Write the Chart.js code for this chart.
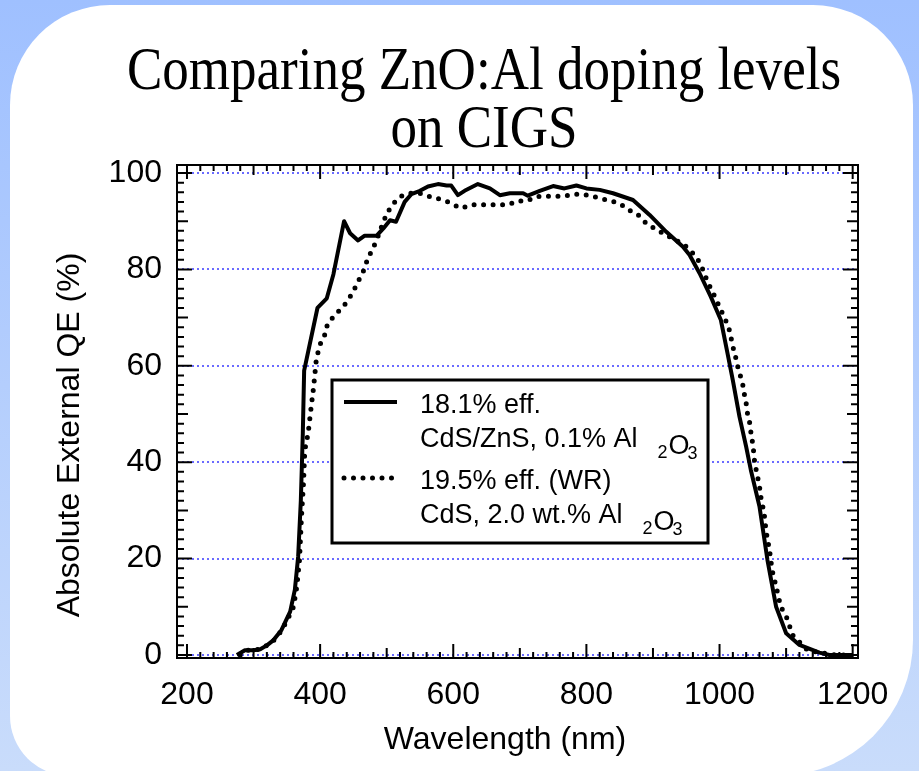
<!DOCTYPE html>
<html>
<head>
<meta charset="utf-8">
<script src="https://cdn.jsdelivr.net/npm/chart.js@4"></script>
<style>
body{margin:0;width:919px;height:771px;overflow:hidden;background:linear-gradient(#9fc0ff,#c9dcfb);position:relative}
#panel{position:absolute;left:10px;top:5px;width:903px;height:771px;background:#fff;border-radius:100px 100px 136px 60px}
#qeChart{position:absolute;left:0;top:0}
</style>
</head>
<body>
<div id="panel"></div>
<canvas id="qeChart" width="919" height="771"></canvas>
<script>

// 18.1% eff. CdS/ZnS, 0.1% Al2O3
let wl18 = [275,287,300,310,320,330,342,355,362,367,371,374,376,396,410,420,436,445,457,467,485,495,505,514,527,537,550,562,577,590,597,607,617,637,655,670,685,705,712,730,750,767,785,800,820,840,870,895,920,945,955,970,987,1002,1012,1020,1030,1040,1047,1060,1072,1085,1100,1120,1150,1165,1200]
let qe18 = [0,1,1,1.2,2,3.1,5.2,9,13.5,20.4,32,46,59,72,74,79,90,87.5,86,87,87,88.5,90.2,89.9,94,95.6,96.3,97.2,97.7,97.4,97.4,95.4,96.3,97.7,96.8,95.4,95.8,95.8,95.3,96.3,97.3,96.8,97.4,96.8,96.5,95.8,94.4,91.3,87.8,84.7,83,79.2,74.3,69.5,62.6,57,49.4,43.2,38.4,30.8,19.7,10,4.5,2.1,0.5,0,0]

// 19.5% eff. (WR) CdS, 2.0 wt.% Al2O3
let wl19 = [280,290,300,310,320,330,342,355,360,365,369,372,375,377,382,387,390,394,397,401,408,411,422,436,445,453,460,467,471,478,485,495,502,510,522,537,550,565,579,592,604,612,627,642,655,670,682,697,710,725,740,753,766,780,795,808,822,836,850,864,877,891,905,920,934,947,961,971,977,982,990,996,1002,1009,1014,1017,1020,1024,1027,1031,1035,1037,1040,1042,1045,1047,1049,1051,1052,1054,1060,1062,1067,1070,1075,1079,1085,1092,1100,1110,1132,1155,1175,1200]
let qe19 = [0,1,1,1.2,2,3,5,8.5,10,14.2,19.7,28.7,35.6,42.5,46,52,55.3,60.9,62.9,64.8,66.7,68.7,70.5,72.5,74.3,76.3,78.3,80.2,82.1,84,86.1,89.9,92,93.7,95.2,95.8,95.8,95.1,94.6,94,93.2,92.7,93.4,93.4,93.4,93.4,93.4,94.2,94.2,95.1,95.2,95.2,95.2,95.6,95.6,95.2,94.7,94.2,93.7,92.3,91.4,89.4,88.3,87.1,86.1,85.1,83.2,81.3,79.2,77.4,75.2,73.4,71.6,69.5,67.8,66,64,61.9,60,58.1,56,54.3,52.2,50.1,48.4,46.3,44.6,42.5,40.8,39.1,35,32.8,29.4,25.6,21.8,17.6,14.2,10,8.1,4.1,1,0.4,0,0]

let xTicks = [200,400,600,800,1000,1200]
let yTicks = [0,20,40,60,80,100]

let titleLines = ["Comparing ZnO:Al doping levels","on CIGS"]
let xTitle = "Wavelength (nm)"
let yTitle = "Absolute External QE (%)"

// each legend entry: first line, second line text, then the "2" O "3" of Al2O3
let legendRows = [
{first:"18.1% eff.",second:"CdS/ZnS, 0.1% Al",dash:[]},
{first:"19.5% eff. (WR)",second:"CdS, 2.0 wt.% Al",dash:[0,9.5]}
]

let decor = {
id:"decor",
afterDatasetsDraw(chart){
const ctx = chart.ctx
const a = chart.chartArea
const xs = chart.scales.x
const ys = chart.scales.y
ctx.save()

// frame + inward ticks
ctx.strokeStyle = "#000"
ctx.lineWidth = 2
ctx.strokeRect(a.left,a.top,a.right-a.left,a.bottom-a.top)
ctx.beginPath()
for(let v=200; v<=1200; v+=20){
let len = v%200==0 ? 14 : (v%100==0 ? 10 : 6)
let px = xs.getPixelForValue(v)
ctx.moveTo(px,a.bottom); ctx.lineTo(px,a.bottom-len)
ctx.moveTo(px,a.top); ctx.lineTo(px,a.top+len)
}
for(let v=0; v<=100; v+=2){
let len = v%20==0 ? 15 : (v%10==0 ? 11 : 7)
let py = ys.getPixelForValue(v)
ctx.moveTo(a.left,py); ctx.lineTo(a.left+len,py)
ctx.moveTo(a.right,py); ctx.lineTo(a.right-len,py)
}
ctx.stroke()

// legend box
let bx = 332, by = 380, bw = 376, bh = 163
ctx.fillStyle = "#fff"
ctx.fillRect(bx,by,bw,bh)
ctx.lineWidth = 3
ctx.strokeRect(bx,by,bw,bh)

ctx.fillStyle = "#000"
ctx.textAlign = "left"
ctx.textBaseline = "alphabetic"
legendRows.forEach((r,i)=>{
let y0 = by + 22 + i*76
ctx.beginPath()
ctx.lineWidth = r.dash.length ? 5 : 4
ctx.lineCap = r.dash.length ? "round" : "butt"
ctx.setLineDash(r.dash)
ctx.moveTo(344,y0)
ctx.lineTo(r.dash.length ? 392 : 397,y0)
ctx.stroke()
ctx.setLineDash([])
ctx.font = "27px 'Liberation Sans'"
ctx.fillText(r.first,420,y0+11)
ctx.fillText(r.second,420,y0+45)
let ex = 420 + ctx.measureText(r.second).width + 20
ctx.font = "18px 'Liberation Sans'"
ctx.fillText("2",ex,y0+56)
ex += ctx.measureText("2").width + 1
ctx.font = "27px 'Liberation Sans'"
ctx.fillText("O",ex,y0+52)
ex += ctx.measureText("O").width - 2
ctx.font = "18px 'Liberation Sans'"
ctx.fillText("3",ex,y0+57)
})

// chart title, narrow and tall like the original
ctx.textAlign = "center"
ctx.font = "62px 'Liberation Serif'"
ctx.save()
ctx.translate(484,0)
ctx.scale(0.855,1)
ctx.fillText(titleLines[0],0,89)
ctx.fillText(titleLines[1],0,147)
ctx.restore()

// axis titles
ctx.font = "32px 'Liberation Sans'"
ctx.textBaseline = "middle"
ctx.fillText(xTitle,505,740)
ctx.translate(70,435)
ctx.rotate(-Math.PI/2)
ctx.fillText(yTitle,0,0)
ctx.restore()
}
}

const ctx = document.getElementById("qeChart")

let chart = new Chart(ctx,{
type:"line",
data:{
datasets:[
{label:"18.1% eff.",data:wl18.map((w,i)=>({x:w,y:qe18[i]})),borderColor:"#000",borderWidth:4,pointRadius:0,tension:0,borderJoinStyle:"round"},
{label:"19.5% eff. (WR)",data:wl19.map((w,i)=>({x:w,y:qe19[i]})),borderColor:"#000",borderWidth:5,borderDash:[0,9.5],borderCapStyle:"round",pointRadius:0,tension:0}
]
},
options:{
responsive:false,
devicePixelRatio:1,
animation:false,
layout:{padding:{top:165,right:61,bottom:0,left:0}},
plugins:{
legend:{display:false},
tooltip:{enabled:false}
},
scales:{
x:{
type:"linear",
min:185,
max:1208,
afterBuildTicks:s=>{s.ticks = xTicks.map(v=>({value:v}))},
afterFit:s=>{s.height = 113},
grid:{display:false,drawTicks:false},
border:{display:false},
ticks:{color:"#000",padding:18,maxRotation:0,callback:v=>String(v),font:{family:"Liberation Sans",size:32}}
},
y:{
min:-0.62,
max:101.66,
afterBuildTicks:s=>{s.ticks = yTicks.map(v=>({value:v}))},
afterFit:s=>{s.width = 177},
grid:{color:"rgba(90,90,255,0.9)",lineWidth:2,drawTicks:false},
border:{display:false,dash:[2,3]},
ticks:{color:"#000",padding:15,callback:v=>String(v),font:{family:"Liberation Sans",size:32}}
}
}
},
plugins:[decor]
})

</script>
</body>
</html>
